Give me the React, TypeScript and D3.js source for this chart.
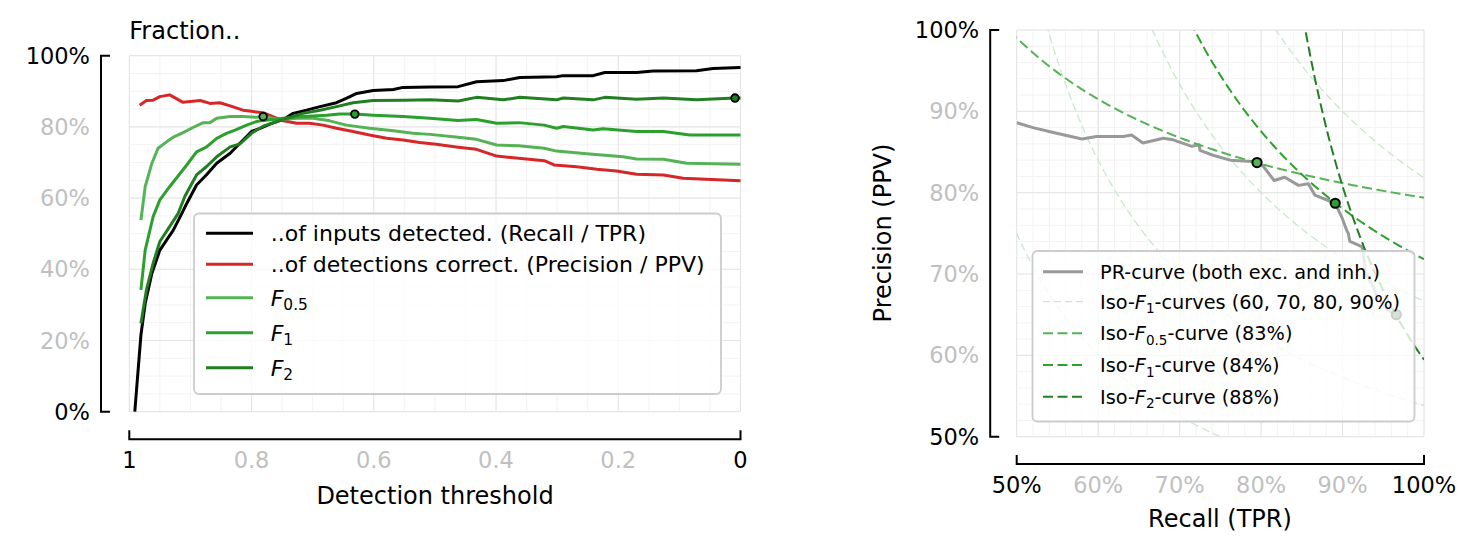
import React, { useEffect, useRef } from 'react';
import * as d3 from 'd3';

// ---- left panel: fraction vs. detection threshold (values in %) ----
const recallT = [0.991, 0.981, 0.974, 0.963, 0.95, 0.939, 0.928, 0.914, 0.906, 0.89, 0.874, 0.857, 0.835, 0.819, 0.8, 0.786, 0.77, 0.748, 0.732, 0.71, 0.688, 0.661, 0.645, 0.628, 0.601, 0.568, 0.552, 0.508, 0.462, 0.432, 0.388, 0.361, 0.301, 0.29, 0.241, 0.222, 0.17, 0.143, 0.072, 0.045, 0.0];
const recallV = [0, 21.5, 30.4, 38.9, 45.4, 48.2, 51, 55.7, 58.5, 63.7, 66.5, 69.8, 72.6, 75.4, 78.7, 79.6, 80.8, 82.1, 83.8, 84.7, 85.7, 86.8, 88, 89.4, 90.2, 90.5, 91.1, 91.2, 91.3, 92.7, 93.0, 93.9, 94.1, 94.4, 94.4, 95.3, 95.3, 95.7, 95.8, 96.4, 96.7];

const precisionT = [0.983, 0.972, 0.961, 0.95, 0.934, 0.912, 0.884, 0.868, 0.852, 0.835, 0.814, 0.797, 0.781, 0.765, 0.748, 0.726, 0.705, 0.683, 0.661, 0.634, 0.607, 0.579, 0.552, 0.525, 0.498, 0.462, 0.432, 0.399, 0.363, 0.321, 0.305, 0.268, 0.235, 0.203, 0.17, 0.126, 0.094, 0.0];
const precisionV = [86.1, 87.4, 87.5, 88.5, 89.0, 86.9, 87.4, 86.6, 86.8, 85.9, 84.7, 84.3, 84.0, 82.9, 81.7, 81.0, 81.0, 80.5, 79.6, 78.7, 77.7, 76.8, 76.3, 75.6, 75.1, 74.3, 73.7, 71.8, 71.2, 70.5, 69.3, 68.8, 68.1, 67.6, 66.7, 66.5, 65.6, 64.9];

const f05T = [0.981, 0.974, 0.963, 0.953, 0.939, 0.928, 0.912, 0.895, 0.879, 0.868, 0.857, 0.835, 0.814, 0.792, 0.781, 0.754, 0.726, 0.699, 0.672, 0.645, 0.607, 0.568, 0.536, 0.508, 0.462, 0.432, 0.399, 0.363, 0.321, 0.301, 0.247, 0.192, 0.17, 0.126, 0.088, 0.0];
const f05V = [53.8, 63.2, 69.8, 74.0, 75.8, 77.1, 78.4, 79.9, 81.2, 81.2, 82.4, 82.9, 82.9, 82.7, 82.9, 82.1, 82.4, 82.4, 81.7, 80.5, 79.6, 78.9, 78.2, 77.9, 77.1, 76.5, 74.9, 74.7, 74.0, 73.2, 72.4, 71.6, 71.0, 70.9, 69.8, 69.5];

const f1T = [0.981, 0.974, 0.961, 0.95, 0.934, 0.917, 0.906, 0.89, 0.874, 0.857, 0.841, 0.827, 0.808, 0.792, 0.776, 0.748, 0.716, 0.677, 0.656, 0.631, 0.601, 0.552, 0.508, 0.462, 0.432, 0.399, 0.363, 0.321, 0.301, 0.29, 0.241, 0.225, 0.17, 0.126, 0.083, 0.0];
const f1V = [34.2, 45.4, 54.8, 59.5, 63.2, 66.9, 69.3, 73.0, 74.3, 76.8, 78.2, 79.1, 80.5, 81.5, 81.9, 82.4, 82.9, 83.3, 83.6, 83.6, 83.3, 82.9, 82.4, 81.8, 82.1, 81.0, 81.2, 80.5, 79.6, 80.1, 79.1, 79.5, 78.7, 78.7, 77.7, 77.7];

const f2T = [0.981, 0.972, 0.961, 0.95, 0.934, 0.92, 0.909, 0.89, 0.874, 0.857, 0.835, 0.819, 0.8, 0.781, 0.759, 0.743, 0.716, 0.688, 0.661, 0.634, 0.601, 0.552, 0.508, 0.462, 0.432, 0.388, 0.361, 0.301, 0.29, 0.241, 0.222, 0.17, 0.126, 0.072, 0.009, 0.0];
const f2V = [24.8, 34.2, 41.7, 47.8, 52.0, 55.7, 60.5, 66.5, 68.8, 71.6, 74.4, 75.2, 78.2, 80.2, 81.5, 82.4, 83.8, 84.7, 85.7, 86.8, 87.4, 87.5, 87.6, 87.3, 88.3, 87.6, 88.3, 87.6, 88.1, 87.6, 88.3, 87.8, 88.1, 87.6, 88.1, 88.1];

// best-F points on the threshold axis
const bestT = [0.781, 0.631, 0.009];
const bestV = [82.9, 83.6, 88.1];

// ---- right panel: PR curve (values in %) ----
const prRecall = [50, 52.0, 54.5, 58.0, 59.8, 63.1, 64.1, 65.5, 68.0, 69.2, 71.5, 72.4, 72.5, 74.1, 76.2, 79.5, 80.3, 81.6, 82.9, 84.6, 85.8, 86.6, 88.1, 89.1, 89.9, 90.5, 90.7, 90.9, 92.3, 92.6, 92.6, 92.8, 93.8, 94.2, 95.5, 96.6];
const prPrecision = [88.6, 88.0, 87.4, 86.6, 86.9, 86.9, 87.1, 86.1, 86.7, 86.5, 85.7, 85.9, 85.2, 84.6, 84.0, 83.8, 83.2, 81.5, 81.9, 80.9, 81.1, 79.7, 79.1, 78.7, 77.0, 75.4, 75.0, 74.0, 73.4, 72.9, 72.0, 70.1, 68.4, 67.2, 65.6, 65.0];

const bestRecall = [79.5, 89.1, 96.6];
const bestPrecision = [83.7, 78.7, 65.0];

const isoF1Levels = [0.6, 0.7, 0.8, 0.9];
const bestBetas = [0.5, 1, 2];
const bestFs = [0.828, 0.836, 0.88];

const xTicksLeft = [1, 0.8, 0.6, 0.4, 0.2, 0];
const yTicksLeft = [0, 20, 40, 60, 80, 100];
const ticksRight = [50, 60, 70, 80, 90, 100];

const FONT = "'DejaVu Sans', sans-serif";
const INNER_TICK = '#c0c0c0';
const C = {
  recall: '#000000',
  precision: '#d62728',
  f05: '#55b255',
  f1: '#2ca02c',
  f2: '#217f21',
  pr: '#999999',
  iso: '#c9e8c9',
};
const fColors = [C.f05, C.f1, C.f2];

function grid(g, x, xMinor, xMajor, yMinor, yMajor, y) {
  const [xa, xb] = x.range();
  const [ya, yb] = y.range();
  const vlines = (vals, color) => g.append('g').selectAll('line').data(vals).join('line')
    .attr('x1', d => x(d)).attr('x2', d => x(d)).attr('y1', ya).attr('y2', yb)
    .attr('stroke', color).attr('stroke-width', 1);
  const hlines = (vals, color) => g.append('g').selectAll('line').data(vals).join('line')
    .attr('y1', d => y(d)).attr('y2', d => y(d)).attr('x1', xa).attr('x2', xb)
    .attr('stroke', color).attr('stroke-width', 1);
  vlines(xMinor, '#f3f3f3');
  hlines(yMinor, '#f3f3f3');
  vlines(xMajor, '#e4e4e4');
  hlines(yMajor, '#e4e4e4');
}

function axes(g, x, y, xTicks, yTicks, xFmt, yFmt, yOff, xOff) {
  const left = Math.min(...x.range());
  const right = Math.max(...x.range());
  const top = Math.min(...y.range());
  const bottom = Math.max(...y.range());
  const sx = left - yOff;
  const sy = bottom + xOff;
  const ends = (arr, d) => d === arr[0] || d === arr[arr.length - 1];

  // y spine with inward ticks at the ends
  g.append('path')
    .attr('d', `M${sx + 9},${top}H${sx}V${bottom}H${sx + 9}`)
    .attr('fill', 'none').attr('stroke', '#000').attr('stroke-width', 2);
  g.append('g').selectAll('text').data(yTicks).join('text')
    .attr('x', sx - 11).attr('y', d => y(d) + 8)
    .attr('text-anchor', 'end').attr('font-size', 22.5)
    .attr('fill', d => (ends(yTicks, d) ? '#000' : INNER_TICK))
    .text(yFmt);

  // x spine
  g.append('path')
    .attr('d', `M${left},${sy - 9}V${sy}H${right}V${sy - 9}`)
    .attr('fill', 'none').attr('stroke', '#000').attr('stroke-width', 2);
  g.append('g').selectAll('text').data(xTicks).join('text')
    .attr('x', d => x(d)).attr('y', sy + 29)
    .attr('text-anchor', 'middle').attr('font-size', 22.5)
    .attr('fill', d => (ends(xTicks, d) ? '#000' : INNER_TICK))
    .text(xFmt);
}

function fLabel(text, parts) {
  // parts: [plain, subscript, plain] around an italic F
  text.append('tspan').text(parts[0]);
  text.append('tspan').attr('font-style', 'italic').text('F');
  text.append('tspan').attr('font-size', '0.7em').attr('dy', 4.5).text(parts[1]);
  text.append('tspan').attr('dy', -4.5).text(parts[2]);
}

function drawThresholdPanel(svg) {
  const x = d3.scaleLinear().domain([1, 0]).range([129.3, 740.5]);
  const y = d3.scaleLinear().domain([0, 100]).range([411.7, 55.7]);
  const g = svg.append('g');

  grid(g, x,
    d3.range(0, 21).map(i => i * 0.05), d3.range(0, 6).map(i => i * 0.2),
    d3.range(0, 21).map(i => i * 5), d3.range(0, 6).map(i => i * 20), y);

  const line = d3.line().x(d => x(d[0])).y(d => y(d[1]));
  const series = [
    [recallT, recallV, C.recall],
    [precisionT, precisionV, C.precision],
    [f05T, f05V, C.f05],
    [f1T, f1V, C.f1],
    [f2T, f2V, C.f2],
  ];
  series.forEach(([ts, vs, color]) => {
    g.append('path')
      .datum(ts.map((t, i) => [t, vs[i]]))
      .attr('d', line)
      .attr('fill', 'none').attr('stroke', color).attr('stroke-width', 3)
      .attr('stroke-linejoin', 'round');
  });

  g.append('g').selectAll('circle').data(bestT).join('circle')
    .attr('cx', d => x(d)).attr('cy', (d, i) => y(bestV[i])).attr('r', 3.8)
    .attr('fill', (d, i) => fColors[i]).attr('stroke', '#000').attr('stroke-width', 1.8);

  axes(g, x, y, xTicksLeft, yTicksLeft, d => `${d}`, d => `${d}%`, 28.3, 27.6);

  g.append('text').attr('x', 129.3).attr('y', 39).attr('font-size', 24).text('Fraction..');
  g.append('text').attr('x', 435).attr('y', 504).attr('text-anchor', 'middle')
    .attr('font-size', 24).text('Detection threshold');

  // legend
  const lg = g.append('g');
  lg.append('rect').attr('x', 194).attr('y', 213.5).attr('width', 527).attr('height', 180.5).attr('rx', 5)
    .attr('fill', '#fff').attr('fill-opacity', 0.8).attr('stroke', '#cccccc').attr('stroke-width', 1.8);
  const rows = [233.3, 264.3, 297.7, 332.7, 367.7];
  const colors = [C.recall, C.precision, C.f05, C.f1, C.f2];
  rows.forEach((ry, i) => {
    lg.append('line').attr('x1', 206).attr('x2', 253).attr('y1', ry).attr('y2', ry)
      .attr('stroke', colors[i]).attr('stroke-width', 3);
    const t = lg.append('text').attr('x', 270.7).attr('y', ry + 8).attr('font-size', 22);
    if (i === 0) t.text('..of inputs detected. (Recall / TPR)');
    else if (i === 1) t.text('..of detections correct. (Precision / PPV)');
    else fLabel(t, ['', ['0.5', '1', '2'][i - 2], '']);
  });
}

function isoCurve(beta, f) {
  const b2 = beta * beta;
  const pts = [];
  d3.range(0, 801).forEach(i => {
    const r = 0.3 + i * 0.000875;
    const den = (1 + b2) * r - b2 * f;
    if (den <= 0) return;
    const p = (f * r) / den;
    if (p > 1.3) return;
    pts.push([r * 100, p * 100]);
  });
  return pts;
}

function drawPrPanel(svg) {
  const x = d3.scaleLinear().domain([50, 100]).range([1016.7, 1424]);
  const y = d3.scaleLinear().domain([50, 100]).range([436.7, 30]);
  const g = svg.append('g');

  grid(g, x,
    d3.range(0, 26).map(i => 50 + i * 2), ticksRight,
    d3.range(0, 26).map(i => 50 + i * 2), ticksRight, y);

  g.append('clipPath').attr('id', 'prclip').append('rect')
    .attr('x', 1016.7).attr('y', 30).attr('width', 1424 - 1016.7).attr('height', 436.7 - 30);

  const line = d3.line().x(d => x(d[0])).y(d => y(d[1]));
  const plot = g.append('g').attr('clip-path', 'url(#prclip)');

  isoF1Levels.forEach(f => {
    plot.append('path').datum(isoCurve(1, f)).attr('d', line)
      .attr('fill', 'none').attr('stroke', C.iso).attr('stroke-width', 1.3)
      .attr('stroke-dasharray', '8,4');
  });

  plot.append('path')
    .datum(prRecall.map((r, i) => [r, prPrecision[i]]))
    .attr('d', line)
    .attr('fill', 'none').attr('stroke', C.pr).attr('stroke-width', 3).attr('stroke-linejoin', 'round');

  bestBetas.forEach((b, i) => {
    plot.append('path').datum(isoCurve(b, bestFs[i])).attr('d', line)
      .attr('fill', 'none').attr('stroke', fColors[i]).attr('stroke-width', 2)
      .attr('stroke-dasharray', '10,4.5');
  });

  g.append('g').selectAll('circle').data(bestRecall).join('circle')
    .attr('cx', d => x(d)).attr('cy', (d, i) => y(bestPrecision[i])).attr('r', 4.6)
    .attr('fill', (d, i) => fColors[i]).attr('stroke', '#000').attr('stroke-width', 2);

  axes(g, x, y, ticksRight, ticksRight, d => `${d}%`, d => `${d}%`, 26.5, 27.3);

  g.append('text').attr('x', 1220).attr('y', 527).attr('text-anchor', 'middle')
    .attr('font-size', 24).text('Recall (TPR)');
  g.append('text').attr('transform', 'translate(891,233) rotate(-90)').attr('text-anchor', 'middle')
    .attr('font-size', 24).text('Precision (PPV)');

  // legend
  const lg = g.append('g');
  lg.append('rect').attr('x', 1032.5).attr('y', 251).attr('width', 382).attr('height', 170.5).attr('rx', 5)
    .attr('fill', '#fff').attr('fill-opacity', 0.8).attr('stroke', '#cccccc').attr('stroke-width', 1.8);
  const rows = [271.7, 301.7, 333.3, 365, 396.7];
  const styles = [
    { color: C.pr, w: 3, dash: null },
    { color: C.iso, w: 1.3, dash: '7,4' },
    { color: C.f05, w: 2, dash: '10,4.5' },
    { color: C.f1, w: 2, dash: '10,4.5' },
    { color: C.f2, w: 2, dash: '10,4.5' },
  ];
  rows.forEach((ry, i) => {
    const s = styles[i];
    lg.append('line').attr('x1', 1043).attr('x2', 1083).attr('y1', ry).attr('y2', ry)
      .attr('stroke', s.color).attr('stroke-width', s.w)
      .attr('stroke-dasharray', s.dash);
    const t = lg.append('text').attr('x', 1100).attr('y', ry + 7).attr('font-size', 19.3);
    if (i === 0) t.text('PR-curve (both exc. and inh.)');
    else if (i === 1) fLabel(t, ['Iso-', '1', `-curves (${isoF1Levels.map(f => Math.round(f * 100)).join(', ')}%)`]);
    else fLabel(t, ['Iso-', `${bestBetas[i - 2]}`, `-curve (${Math.round(bestFs[i - 2] * 100)}%)`]);
  });
}

export default function App() {
  const ref = useRef(null);
  useEffect(() => {
    const svg = d3.select(ref.current);
    svg.selectAll('*').remove();
    drawThresholdPanel(svg);
    drawPrPanel(svg);
  }, []);
  return (
    <div style={{ position: 'absolute', left: 0, top: 0 }}>
      <svg ref={ref} width={1480} height={554} style={{ display: 'block', background: '#fff' }} fontFamily={FONT} />
    </div>
  );
}
